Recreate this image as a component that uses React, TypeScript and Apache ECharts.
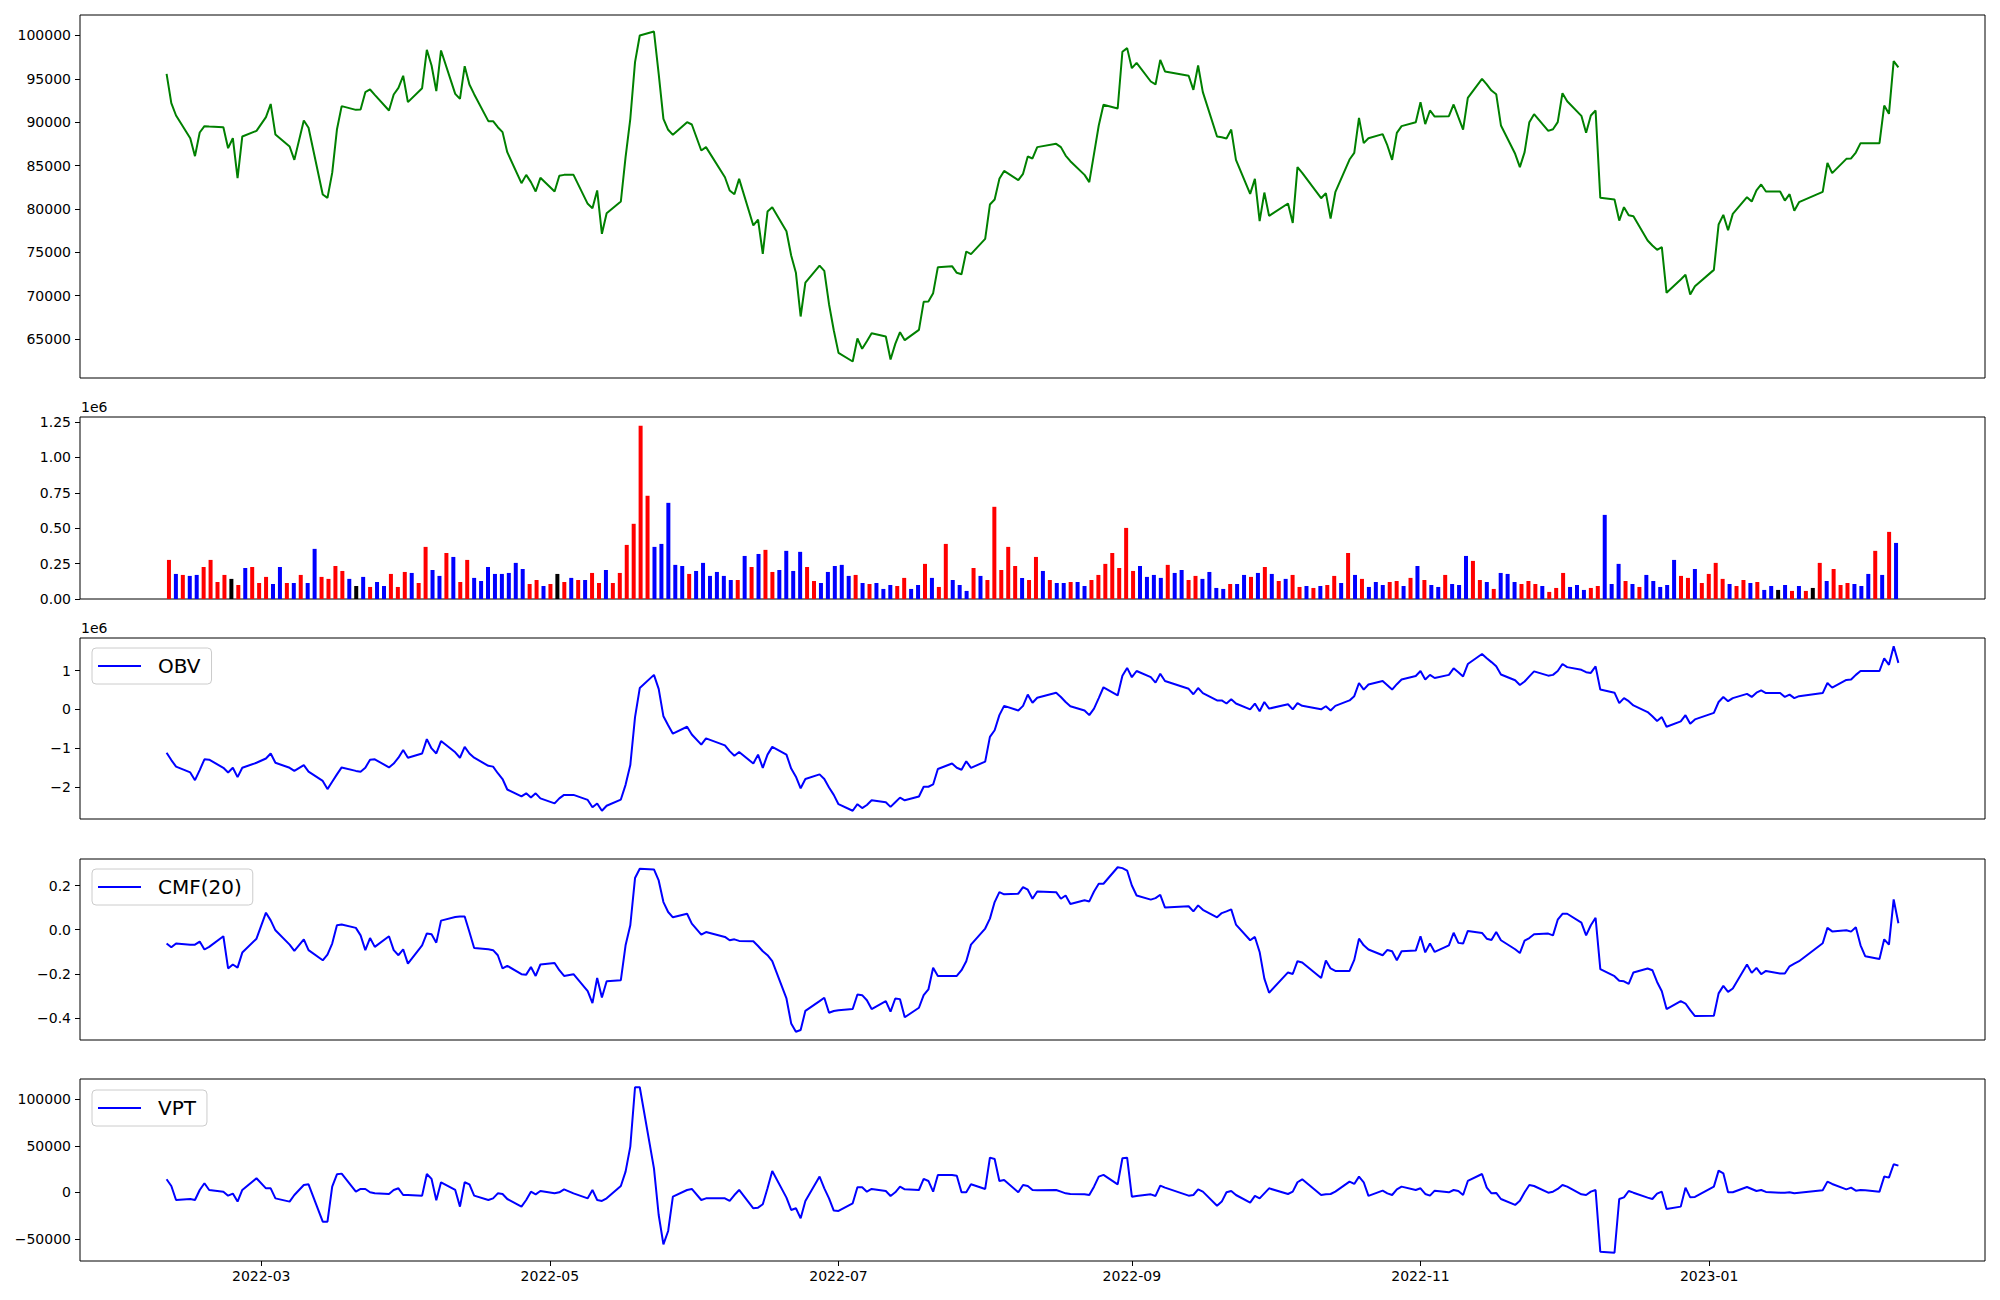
import React, { useEffect, useRef } from "react";
import * as echarts from "echarts";

const START_DATE = "2022-02-09";
const END_DATE = "2023-02-10";
const HOLIDAYS = [
  "2022-03-01", "2022-03-09", "2022-05-05", "2022-06-01", "2022-06-06", "2022-08-15",
  "2022-09-09", "2022-09-12", "2022-10-03", "2022-10-10", "2022-12-30", "2023-01-23", "2023-01-24",
];

const price = [
  95580, 92190, 90770, 88150, 86080, 88810, 89540, 89500, 89420, 87000, 88150, 83540, 88350, 89000,
  90580, 92100, 88570, 87190, 85650, 90190, 89350, 81660, 81270, 84150, 89150, 91850, 91420, 91460, 93460, 93770, 93150, 91350, 93190, 93960, 95350,
  92310, 93920, 98350, 96540, 93580, 98270, 93270, 92690, 96460, 94350, 93230, 90120, 90120, 89420, 88850, 86540, 82960, 83920, 83080, 82000, 83580,
  82000, 83810, 83920, 83920, 80580, 80080, 82120, 77120, 79500, 80850, 85960, 90390, 96920, 100000, 100460, 95580, 90390, 89120, 88540, 90000, 89730,
  86730, 87120, 83650, 82120, 81690, 83460, 78080, 78770, 74810, 79690, 80190, 77420, 74620, 72620, 67580, 71500, 73460, 72850, 69000, 66000,
  63390, 62390, 65040, 63850, 64730, 65650, 65270, 62620, 64420, 65770, 64850, 66040, 69270, 69310, 70270, 73270, 73390, 72620, 72460, 75080, 74770,
  76540, 80500, 81080, 83460, 84380, 83310, 84040, 86040, 85810, 87120, 87500, 87120, 86150, 85500, 83920, 83080, 86350, 89620, 92000, 91580, 98120, 98540,
  96230, 96850, 94690, 94350, 97190, 95850, 95350, 93730, 96540, 93460, 88350, 88270, 88120, 89150, 85650, 81730, 83460, 78580, 81880, 79190,
  80620, 78380, 84810, 84150, 81230, 81810, 78880, 81920, 85690, 86460, 90500, 87580, 88150, 88620, 87310, 85650, 88770, 89540, 90000,
  92310, 89770, 91350, 90650, 90690, 92040, 90580, 89150, 92810, 95000, 94350, 93650, 93230, 89620, 86350, 84810, 86540, 90000, 90920, 89000, 89190, 90000,
  93350, 92420, 90730, 88770, 90770, 91350, 81270, 81080, 78650, 80190, 79270, 79150, 76350, 75770, 75270, 75580, 70310, 71850, 72390, 70120, 71080,
  72960, 78190, 79310, 77540, 79420, 81350, 80850, 82120, 82810, 82000, 82000, 80960, 81690, 79770, 80770, 81960, 85310, 84120, 85770, 85810,
  86500, 87580, 87580, 87580, 91920, 90960, 97040, 96310,
];

// volume in thousands of shares
const volumeK = [
  276, 177, 170, 163, 170, 226, 276, 120, 170, 142,
  99, 219, 226, 113, 156, 106, 226, 113, 113, 170,
  113, 354, 156, 142, 233, 198, 142, 92, 156, 85,
  120, 92, 177, 85, 191, 184, 113, 368, 205, 163,
  325, 297, 120, 276, 149, 127, 226, 177, 177, 184,
  255, 212, 106, 134, 92, 106, 177, 120, 149, 134,
  134, 184, 113, 205, 113, 184, 382, 531, 1224, 729,
  368, 389, 679, 241, 233, 177, 198, 255, 163, 191,
  163, 134, 134, 304, 226, 318, 347, 191, 205, 340,
  198, 333, 226, 127, 113, 191, 233, 241, 163, 170,
  113, 106, 113, 71, 99, 92, 149, 71, 99, 248,
  149, 85, 389, 134, 99, 57, 219, 163, 134, 651,
  205, 368, 233, 149, 134, 297, 198, 134, 113, 113,
  120, 120, 92, 134, 170, 248, 325, 219, 502, 198,
  233, 156, 170, 149, 241, 184, 205, 134, 163, 142,
  191, 78, 71, 106, 106, 170, 156, 184, 226, 177,
  127, 142, 170, 85, 92, 78, 92, 99, 163, 113,
  325, 170, 142, 85, 120, 99, 120, 127, 92, 149,
  233, 134, 99, 85, 170, 106, 99, 304, 269, 134,
  120, 71, 184, 177, 120, 106, 127, 106, 92, 50,
  78, 184, 85, 99, 64, 78, 92, 594, 106, 248,
  127, 106, 85, 170, 127, 85, 99, 276, 163, 149,
  212, 113, 177, 255, 142, 106, 92, 134, 113, 120,
  64, 92, 64, 99, 57, 92, 57, 78, 255, 127,
  212, 99, 113, 106, 92, 177, 340, 170, 474, 396,
];

// bar colour code per day: r = red, b = blue, k = black
const volumeDir = (
  "rbrbbrrrrk" + "rbrrrbbrbr" + "bbrrrrbkbr" + "bbrrrbrrbb" + "rbrrbbbbbb" +
  "bbrrbrkrbr" + "brrbrrrrrr" + "bbbbbrbbbb" + "bbrbrbrrbb" + "bbrrbbbbbr" +
  "brbbbrrbbr" + "brrbbbrbrr" + "rrrbrrbrbb" + "rbbrrrrrrr" + "bbbbrbbrrb" +
  "bbbrbbrbrb" + "rbrrbrbrrb" + "rbrbbbrrbr" + "brbbrbbbrr" + "brbbbrrrbr" +
  "rrbbbrrbbb" + "rbrbbbbbrr" + "brrrrbrrbr" + "bbkbrbrkrb" + "rrrbbbrbrb"
).split("");

// OBV in millions
const obvM = [
  -1.12, -1.31, -1.48, -1.63, -1.83, -1.57, -1.29, -1.30, -1.51, -1.63, -1.51, -1.75, -1.51, -1.38,
  -1.27, -1.14, -1.38, -1.51, -1.59, -1.44, -1.61, -1.85, -2.06, -1.87, -1.68, -1.50, -1.59, -1.61, -1.51, -1.30, -1.29, -1.50, -1.40, -1.25, -1.05,
  -1.25, -1.14, -0.77, -1.01, -1.14, -0.82, -1.11, -1.25, -0.97, -1.14, -1.25, -1.46, -1.48, -1.65, -1.80, -2.07, -2.25, -2.17, -2.28, -2.17, -2.30,
  -2.43, -2.30, -2.21, -2.21, -2.34, -2.53, -2.43, -2.62, -2.49, -2.33, -1.95, -1.44, -0.20, 0.55, 0.89, 0.53, -0.18, -0.41, -0.63, -0.45, -0.65,
  -0.91, -0.75, -0.93, -1.08, -1.20, -1.10, -1.40, -1.17, -1.51, -1.17, -0.97, -1.17, -1.53, -1.74, -2.04, -1.80, -1.68, -1.80, -2.02, -2.21,
  -2.45, -2.62, -2.45, -2.55, -2.47, -2.35, -2.40, -2.52, -2.40, -2.28, -2.35, -2.25, -2.00, -2.00, -1.94, -1.54, -1.40, -1.51, -1.56, -1.34, -1.51,
  -1.35, -0.71, -0.54, -0.15, 0.09, -0.03, 0.09, 0.38, 0.17, 0.30, 0.43, 0.32, 0.19, 0.08, -0.03, -0.15, 0.02, 0.29, 0.57, 0.36, 0.87, 1.07,
  0.83, 0.99, 0.83, 0.69, 0.92, 0.73, 0.53, 0.39, 0.55, 0.42, 0.23, 0.23, 0.15, 0.26, 0.15, 0.00, 0.15, -0.05, 0.19, 0.02,
  0.13, 0.00, 0.16, 0.09, 0.00, 0.08, -0.03, 0.09, 0.23, 0.34, 0.68, 0.51, 0.64, 0.73, 0.62, 0.51, 0.65, 0.77, 0.86,
  0.99, 0.77, 0.89, 0.81, 0.89, 1.06, 0.96, 0.85, 1.17, 1.43, 1.32, 1.22, 1.11, 0.90, 0.75, 0.63, 0.72, 0.85, 0.98, 0.87, 0.89, 0.99,
  1.17, 1.09, 1.02, 0.96, 0.94, 1.11, 0.51, 0.43, 0.16, 0.29, 0.21, 0.10, -0.07, -0.18, -0.30, -0.20, -0.45, -0.31, -0.15, -0.37, -0.26,
  -0.09, 0.19, 0.32, 0.21, 0.29, 0.40, 0.32, 0.43, 0.49, 0.42, 0.42, 0.32, 0.38, 0.29, 0.34, 0.42, 0.68, 0.56, 0.76, 0.77,
  0.89, 0.99, 0.99, 0.99, 1.32, 1.15, 1.63, 1.20,
];

const cmf20 = [
  -0.063, -0.080, -0.063, -0.068, -0.068, -0.054, -0.090, -0.078, -0.030, -0.176, -0.158, -0.172, -0.104, -0.041,
  0.077, 0.042, -0.003, -0.068, -0.096, -0.044, -0.093, -0.139, -0.113, -0.063, 0.020, 0.023, 0.008, -0.026, -0.093, -0.038, -0.078, -0.030, -0.093, -0.116, -0.089,
  -0.154, -0.071, -0.017, -0.021, -0.059, 0.041, 0.057, 0.060, 0.060, -0.011, -0.083, -0.089, -0.093, -0.116, -0.176, -0.164, -0.202, -0.204, -0.169, -0.210, -0.158,
  -0.151, -0.184, -0.210, -0.202, -0.279, -0.333, -0.219, -0.308, -0.234, -0.229, -0.071, 0.020, 0.234, 0.276, 0.273, 0.223, 0.125, 0.080, 0.056, 0.072, 0.027,
  -0.023, -0.011, -0.033, -0.048, -0.044, -0.051, -0.053, -0.074, -0.098, -0.116, -0.143, -0.312, -0.425, -0.463, -0.455, -0.368, -0.324, -0.309, -0.377, -0.369,
  -0.365, -0.360, -0.294, -0.297, -0.320, -0.360, -0.324, -0.372, -0.312, -0.315, -0.397, -0.354, -0.297, -0.271, -0.173, -0.210, -0.210, -0.210, -0.184, -0.143, -0.068,
  0.005, 0.050, 0.125, 0.170, 0.160, 0.163, 0.193, 0.181, 0.140, 0.173, 0.170, 0.140, 0.155, 0.116, 0.133, 0.128, 0.173, 0.208, 0.208, 0.283, 0.279, 0.268,
  0.200, 0.155, 0.136, 0.143, 0.158, 0.100, 0.106, 0.083, 0.110, 0.090, 0.056, 0.075, 0.083, 0.092, 0.023, -0.048, -0.033, -0.101, -0.222, -0.286,
  -0.194, -0.201, -0.143, -0.149, -0.219, -0.140, -0.176, -0.187, -0.187, -0.137, -0.041, -0.071, -0.090, -0.116, -0.092, -0.098, -0.139, -0.098, -0.095,
  -0.030, -0.103, -0.063, -0.101, -0.071, -0.014, -0.060, -0.063, -0.006, -0.015, -0.041, -0.047, -0.011, -0.048, -0.089, -0.106, -0.050, -0.038, -0.021, -0.018, -0.026, 0.045,
  0.072, 0.072, 0.032, -0.026, 0.020, 0.054, -0.179, -0.211, -0.232, -0.234, -0.246, -0.194, -0.176, -0.184, -0.237, -0.279, -0.360, -0.324, -0.335, -0.365, -0.392,
  -0.390, -0.289, -0.255, -0.282, -0.267, -0.158, -0.196, -0.173, -0.202, -0.187, -0.199, -0.199, -0.166, -0.154, -0.143, -0.062, 0.008, -0.008, -0.003, -0.009,
  0.011, -0.071, -0.121, -0.133, -0.044, -0.068, 0.137, 0.029,
];

const vpt = [
  14000, 6800, -8300, -7200, -8300, 2500, 9700, 2500, 700, -3600, -1400, -10000, 2500, 15100,
  4300, 4300, -6500, -10000, -2900, 7900, 8600, -31600, -31600, 6100, 19400, 20100, 700, 3600, 3600, 0, -1100, -1800, 2500, 4300, -2900,
  -2900, -3600, 19700, 14400, -8600, 10800, 2500, -15400, 10800, 8600, -3600, -8300, -6500, -1100, -1800, -7200, -15400, -8300, 700, -2200, 1400,
  -1100, 0, 3200, -1100, -6500, 2500, -8300, -9300, -6500, 6800, 22300, 49200, 113000, 113000, 25800, -24400, -56000, -41600, -4700, 2500, 3600,
  -8300, -6500, -6500, -9300, -2900, 2500, -17200, -16500, -12900, 4300, 23000, -5700, -19000, -17200, -28000, -9300, 16900, 4300, -6500, -19700,
  -20100, -11800, 5400, 5400, 700, 3600, 1400, -3900, 0, 6100, 3200, 2500, 14400, 12200, 700, 18700, 18700, 17900, 0, 0, 8600,
  3600, 37300, 35900, 12200, 13300, 0, 7900, 6800, 2500, 2200, 2500, 700, -1100, -1800, -2200, -2900, 6100, 16900, 18700, 8600, 36600, 37300,
  -4700, -3900, -2200, -3900, 7200, 5000, -3600, -2900, 3200, 700, -14400, -10000, 0, 1400, -2900, -11100, -3900, -6500, -1100, 4300,
  -1800, 700, 10800, 14000, -2900, -2200, -1800, 700, 11500, 9000, 16900, 10800, -3900, 1800, -1100, -2900, 3200, 6100, 2500,
  4300, -1800, -3600, 1800, 0, 2500, 1400, -2900, 12200, 19700, 5000, -1100, -700, -7200, -13600, -9000, 0, 7900, 6800, -400, 700, 3600,
  7900, 6100, -2200, -2900, 700, 2500, -63900, -65000, -7200, -5400, 1400, -400, -5700, -7200, -1400, 700, -18000, -15400, 5000, -5400, -5000,
  6100, 23300, 20500, 0, 0, 5700, 3600, 1400, 2500, 400, -400, -400, 0, -1100, -400, 2200, 11500, 9000, 3200, 5000,
  1800, 2500, 2200, 700, 16900, 15800, 30200, 28700,
];

const xTickDates = ["2022-03-01", "2022-05-01", "2022-07-01", "2022-09-01", "2022-11-01", "2023-01-01"];
const priceTicks = [65000, 70000, 75000, 80000, 85000, 90000, 95000, 100000];
const volumeTicksK = [0, 250, 500, 750, 1000, 1250];
const obvTicks = [-2, -1, 0, 1];
const cmfTicks = [-0.4, -0.2, 0, 0.2];
const vptTicks = [-50000, 0, 50000, 100000];

const DAY = 86400000;
const FONT = "DejaVu Sans";

function tradingDays(): number[] {
  const hol = new Set(HOLIDAYS);
  const out: number[] = [];
  let t = Date.parse(START_DATE + "T00:00:00Z");
  const end = Date.parse(END_DATE + "T00:00:00Z");
  while (t <= end) {
    const d = new Date(t);
    const wd = d.getUTCDay();
    const iso = d.toISOString().slice(0, 10);
    if (wd !== 0 && wd !== 6 && !hol.has(iso)) out.push(t);
    t += DAY;
  }
  return out;
}

function padRange(arr: number[]): [number, number] {
  let mn = Infinity, mx = -Infinity;
  arr.forEach((v) => { if (v < mn) mn = v; if (v > mx) mx = v; });
  const r = mx - mn;
  return [mn - 0.05 * r, mx + 0.05 * r];
}

const minus = (s: string) => s.replace("-", "\u2212");

export default function App() {
  const ref = useRef<HTMLDivElement>(null);

  useEffect(() => {
    if (!ref.current) return;
    const chart = echarts.init(ref.current, undefined, { renderer: "svg" });

    const dates = tradingDays();
    const n = Math.min(dates.length, price.length);
    const t0 = dates[0];
    const t1 = dates[n - 1];
    const span = t1 - t0;
    const xMin = t0 - 0.05 * span;
    const xMax = t1 + 0.05 * span;
    const xTicks = xTickDates.map((s) => Date.parse(s + "T00:00:00Z"));

    const nb = volumeK.length;
    const b0 = t0 + 0.5 * DAY;
    const b1 = t1 - 0.5 * DAY;
    const barX = volumeK.map((_, i) => b0 + (i * (b1 - b0)) / (nb - 1));
    const colorOf: Record<string, string> = { r: "#ff0000", b: "#0000ff", k: "#000000" };

    const grids = [
      { top: 15, height: 363 },
      { top: 417, height: 182 },
      { top: 638, height: 181 },
      { top: 859, height: 181 },
      { top: 1079, height: 182 },
    ].map((g) => ({
      left: 80, right: 15, top: g.top, height: g.height,
      show: true, borderColor: "#000", borderWidth: 1, backgroundColor: "#fff",
    }));

    const xAxes = grids.map((_, i) => ({
      type: "value",
      gridIndex: i,
      min: xMin,
      max: xMax,
      position: "bottom",
      axisLine: { show: false, onZero: false },
      splitLine: { show: false },
      axisTick: { show: i === 4, customValues: xTicks, length: 5, lineStyle: { color: "#000", width: 1 } },
      axisLabel: {
        show: i === 4,
        customValues: xTicks,
        margin: 8,
        fontSize: 14,
        fontFamily: FONT,
        color: "#000",
        formatter: (v: number) => {
          const d = new Date(v);
          return d.getUTCFullYear() + "-" + String(d.getUTCMonth() + 1).padStart(2, "0");
        },
      },
    }));

    const yAxisBase = (i: number, min: number, max: number, ticks: number[], fmt: (v: number) => string) => ({
      type: "value",
      gridIndex: i,
      min,
      max,
      position: "left",
      axisLine: { show: false, onZero: false },
      splitLine: { show: false },
      axisTick: { show: true, customValues: ticks, length: 5, lineStyle: { color: "#000", width: 1 } },
      axisLabel: { customValues: ticks, margin: 9, fontSize: 14, fontFamily: FONT, color: "#000", formatter: fmt },
    });

    const [pMin, pMax] = padRange(price);
    const [oMin, oMax] = padRange(obvM);
    const [cMin, cMax] = padRange(cmf20);
    const [vMin, vMax] = padRange(vpt);
    const volMax = Math.max(...volumeK) * 1.05;

    const yAxes = [
      yAxisBase(0, pMin, pMax, priceTicks, (v) => String(v)),
      yAxisBase(1, 0, volMax, volumeTicksK, (v) => (v / 1000).toFixed(2)),
      yAxisBase(2, oMin, oMax, obvTicks, (v) => minus(v.toFixed(0))),
      yAxisBase(3, cMin, cMax, cmfTicks, (v) => minus(v.toFixed(1))),
      yAxisBase(4, vMin, vMax, vptTicks, (v) => minus(String(Math.round(v)))),
    ];

    const lineSeries = (name: string, idx: number, values: number[], color: string) => ({
      name,
      type: "line",
      xAxisIndex: idx,
      yAxisIndex: idx,
      data: dates.slice(0, Math.min(dates.length, values.length)).map((t, i) => [t, values[i]]),
      showSymbol: false,
      symbol: "none",
      lineStyle: { color, width: 2 },
      itemStyle: { color },
      emphasis: { disabled: true },
      z: 3,
    });

    const legendAt = (name: string, top: number) => ({
      data: [name],
      left: 92,
      top,
      orient: "horizontal",
      icon: "rect",
      itemWidth: 43,
      itemHeight: 2,
      itemGap: 0,
      padding: [8, 11, 8, 6],
      borderColor: "#cccccc",
      borderWidth: 1,
      borderRadius: 4,
      backgroundColor: "rgba(255,255,255,0.8)",
      selectedMode: false,
      textStyle: { fontSize: 20, fontFamily: FONT, color: "#000", padding: [0, 0, 0, 12] },
    });

    chart.setOption({
      animation: false,
      backgroundColor: "#fff",
      grid: grids,
      xAxis: xAxes,
      yAxis: yAxes,
      legend: [legendAt("OBV", 648), legendAt("CMF(20)", 869), legendAt("VPT", 1090)],
      graphic: [
        { type: "text", left: 81, top: 400, style: { text: "1e6", fontSize: 14, fontFamily: FONT, fill: "#000" } },
        { type: "text", left: 81, top: 621, style: { text: "1e6", fontSize: 14, fontFamily: FONT, fill: "#000" } },
      ],
      series: [
        lineSeries("Close", 0, price, "#008000"),
        {
          name: "Volume",
          type: "bar",
          xAxisIndex: 1,
          yAxisIndex: 1,
          barWidth: 4,
          data: volumeK.map((v, i) => ({
            value: [barX[i], v],
            itemStyle: { color: colorOf[volumeDir[i]] || "#000" },
          })),
          emphasis: { disabled: true },
        },
        lineSeries("OBV", 2, obvM, "#0000ff"),
        lineSeries("CMF(20)", 3, cmf20, "#0000ff"),
        lineSeries("VPT", 4, vpt, "#0000ff"),
      ],
    });

    return () => chart.dispose();
  }, []);

  return (
    <div
      ref={ref}
      style={{ position: "fixed", left: 0, top: 0, width: 2000, height: 1300, background: "#fff" }}
    />
  );
}
